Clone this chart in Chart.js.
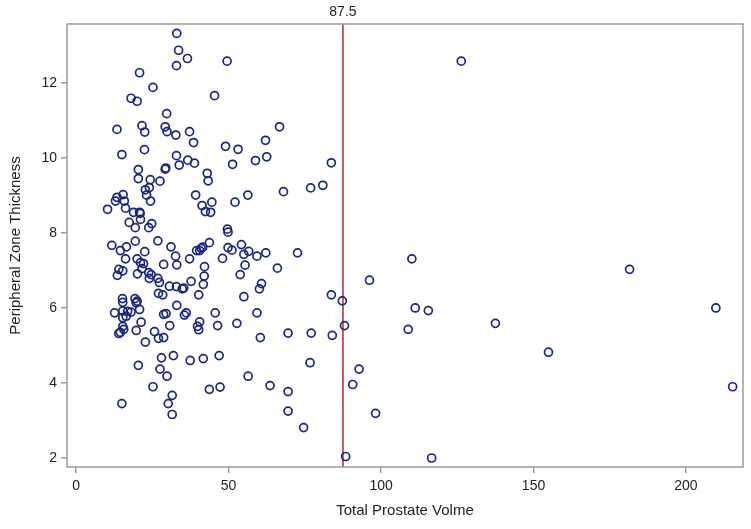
<!DOCTYPE html>
<html>
<head>
<meta charset="utf-8">
<script src="https://cdn.jsdelivr.net/npm/chart.js@4.4.1/dist/chart.umd.min.js"></script>
<style>
  html, body { margin: 0; padding: 0; background: #fff; }
  #wrap { position: relative; width: 751px; height: 529px; }
</style>
</head>
<body>
<div id="wrap"><canvas id="chart"></canvas></div>
<script>
// Total prostate volume (x) and peripheral zone thickness (y), one entry per patient
const volume = [
  33.0, 33.6, 36.5, 32.9, 20.8, 49.5, 25.2, 45.4, 18.0, 20.0,
  29.7, 13.4, 21.6, 22.5, 29.2, 29.8, 32.7, 37.2, 38.5, 49.0,
  53.1, 15.0, 22.4, 32.9, 33.8, 36.6, 38.8, 51.3, 58.8, 29.4,
  29.2, 20.4, 20.4, 24.3, 27.5, 43.0, 43.3, 22.7, 24.0, 23.1,
  24.4, 39.2, 56.3, 52.1, 15.4, 13.4, 12.9, 15.8, 10.3, 16.2,
  18.8, 20.8, 21.0, 21.1, 41.3, 42.4, 44.1, 44.5, 17.4, 19.4,
  23.8, 24.8, 49.6, 49.8, 66.7, 62.1, 62.5, 83.7, 76.9, 80.9,
  68.0, 43.7, 41.0, 41.5, 49.8, 51.1, 54.2, 56.6, 55.0, 59.3,
  62.2, 72.6, 48.0, 42.1, 42.0, 41.7, 55.4, 53.8, 66.0, 60.8,
  60.1, 55.0, 40.2, 83.7, 87.3, 96.2, 45.6, 59.3, 40.5, 39.8,
  40.2, 46.4, 52.7, 60.4, 69.5, 77.1, 84.0, 88.0, 41.7, 46.9,
  76.7, 92.8, 90.7, 56.4, 43.7, 47.2, 63.6, 69.5, 69.5, 98.2,
  74.6, 88.4, 110.1, 111.2, 115.5, 108.9, 137.5, 154.9, 181.5, 209.8,
  215.3, 116.6, 126.3, 11.7, 14.5, 16.5, 19.4, 16.2, 22.5, 26.8,
  31.1, 32.6, 33.0, 28.7, 20.0, 21.1, 22.1, 21.6, 20.1, 14.0,
  15.3, 13.5, 23.8, 24.0, 24.6, 26.8, 27.3, 37.2, 39.5, 40.5,
  37.7, 32.9, 30.6, 34.8, 35.3, 27.0, 28.4, 15.2, 15.3, 19.3,
  20.0, 19.7, 20.8, 12.6, 15.3, 15.3, 16.4, 16.9, 18.0, 21.3,
  15.3, 14.5, 14.0, 15.6, 19.7, 22.7, 25.7, 27.0, 28.7, 30.7,
  28.7, 29.5, 33.0, 35.5, 36.1, 28.0, 31.9, 37.4, 20.4, 27.5,
  29.8, 25.2, 31.5, 30.2, 31.5, 15.0
];
const thickness = [
  13.32, 12.87, 12.65, 12.46, 12.27, 12.58, 11.88, 11.66, 11.59, 11.51,
  11.18, 10.76, 10.86, 10.69, 10.83, 10.70, 10.61, 10.70, 10.41, 10.31,
  10.23, 10.09, 10.22, 10.06, 9.81, 9.94, 9.86, 9.83, 9.93, 9.73,
  9.70, 9.69, 9.45, 9.42, 9.38, 9.59, 9.39, 9.15, 9.21, 9.01,
  8.85, 9.01, 9.01, 8.82, 9.02, 8.95, 8.85, 8.85, 8.63, 8.66,
  8.55, 8.55, 8.52, 8.36, 8.73, 8.57, 8.55, 8.82, 8.28, 8.14,
  8.14, 8.25, 8.10, 8.02, 10.83, 10.47, 10.03, 9.87, 9.20, 9.27,
  9.10, 7.74, 7.59, 7.62, 7.61, 7.54, 7.69, 7.51, 7.43, 7.38,
  7.47, 7.47, 7.32, 7.10, 6.85, 6.63, 7.14, 6.89, 7.06, 6.65,
  6.51, 6.30, 6.35, 6.35, 6.19, 6.74, 5.87, 5.87, 5.63, 5.51,
  5.42, 5.53, 5.59, 5.21, 5.33, 5.33, 5.27, 5.53, 4.65, 4.73,
  4.54, 4.37, 3.96, 4.18, 3.83, 3.89, 3.93, 3.77, 3.25, 3.19,
  2.81, 2.04, 7.31, 6.00, 5.93, 5.43, 5.59, 4.82, 7.03, 6.00,
  3.90, 2.00, 12.58, 7.67, 7.53, 7.63, 7.78, 7.31, 7.50, 7.79,
  7.63, 7.38, 7.15, 7.16, 7.31, 7.21, 7.18, 7.05, 6.91, 7.03,
  6.99, 6.87, 6.94, 6.79, 6.89, 6.79, 6.68, 7.31, 7.53, 7.53,
  6.71, 6.57, 6.58, 6.51, 6.53, 6.39, 6.35, 6.25, 6.15, 6.25,
  6.18, 6.14, 5.96, 5.87, 5.92, 5.74, 5.78, 5.91, 5.89, 5.62,
  5.51, 5.35, 5.32, 5.43, 5.40, 5.09, 5.37, 5.19, 5.21, 5.53,
  5.83, 5.85, 6.07, 5.81, 5.87, 4.67, 4.73, 4.60, 4.47, 4.37,
  4.18, 3.90, 3.67, 3.45, 3.16, 3.45
];
const xTicks = [0, 50, 100, 150, 200];
const yTicks = [2, 4, 6, 8, 10, 12];
const cutoff = 87.5;

const points = volume.map((v, i) => ({ x: v, y: thickness[i] }));

const axisGray = '#9a9a9a';
const textColor = '#1e1e1e';
const fontFamily = '"Liberation Sans", Arial, sans-serif';

// grey box round the plot area
const frame = {
  id: 'frame',
  afterDraw(chart) {
    const { ctx, chartArea: a } = chart;
    ctx.save();
    ctx.strokeStyle = axisGray;
    ctx.lineWidth = 1.5;
    ctx.strokeRect(a.left, a.top, a.right - a.left, a.bottom - a.top);
    ctx.restore();
  },
};

// vertical reference line at the cutoff, with its value above the plot
const refLine = {
  id: 'refLine',
  beforeDatasetsDraw(chart) {
    const { ctx, chartArea: a, scales } = chart;
    const x = scales.x.getPixelForValue(cutoff);
    ctx.save();
    ctx.strokeStyle = '#a82830';
    ctx.lineWidth = 1.5;
    ctx.beginPath();
    ctx.moveTo(x, a.top);
    ctx.lineTo(x, a.bottom);
    ctx.stroke();
    ctx.fillStyle = textColor;
    ctx.font = '14px ' + fontFamily;
    ctx.textAlign = 'center';
    ctx.textBaseline = 'middle';
    ctx.fillText(String(cutoff), x, a.top - 12);
    ctx.restore();
  },
};

const ctx = document.getElementById('chart').getContext('2d');
new Chart(ctx, {
  type: 'scatter',
  data: {
    datasets: [
      {
        data: points,
        pointStyle: 'circle',
        pointRadius: 4,
        pointBorderWidth: 1.7,
        pointBorderColor: '#1a2680',
        pointBackgroundColor: 'rgba(0,0,0,0)',
        pointHoverRadius: 4,
      },
    ],
  },
  options: {
    responsive: true,
    maintainAspectRatio: false,
    animation: false,
    plugins: {
      legend: { display: false },
      tooltip: { enabled: false },
    },
    layout: {
      padding: { top: 24, right: 8, left: 0, bottom: 0 },
    },
    scales: {
      x: {
        type: 'linear',
        min: -3,
        max: 218.7,
        afterFit(scale) { scale.height = 62; },
        afterBuildTicks(scale) { scale.ticks = xTicks.map(v => ({ value: v })); },
        grid: {
          drawOnChartArea: false,
          drawTicks: true,
          tickLength: 6,
          color: axisGray,
          lineWidth: 1.5,
        },
        border: { display: false },
        ticks: {
          padding: 5,
          color: textColor,
          font: { family: fontFamily, size: 14 },
          maxRotation: 0,
        },
        title: {
          display: true,
          text: 'Total Prostate Volme',
          color: textColor,
          font: { family: fontFamily, size: 15 },
          padding: { top: 0, bottom: 9 },
        },
      },
      y: {
        type: 'linear',
        min: 1.76,
        max: 13.57,
        afterFit(scale) { scale.width = 67; },
        afterBuildTicks(scale) { scale.ticks = yTicks.map(v => ({ value: v })); },
        grid: {
          drawOnChartArea: false,
          drawTicks: true,
          tickLength: 6,
          color: axisGray,
          lineWidth: 1.5,
        },
        border: { display: false },
        ticks: {
          padding: 4,
          color: textColor,
          font: { family: fontFamily, size: 14 },
        },
        title: {
          display: true,
          text: 'Peripheral Zone Thickness',
          color: textColor,
          font: { family: fontFamily, size: 15 },
          padding: { top: 7, bottom: 0 },
        },
      },
    },
  },
  plugins: [refLine, frame],
});
</script>
</body>
</html>
